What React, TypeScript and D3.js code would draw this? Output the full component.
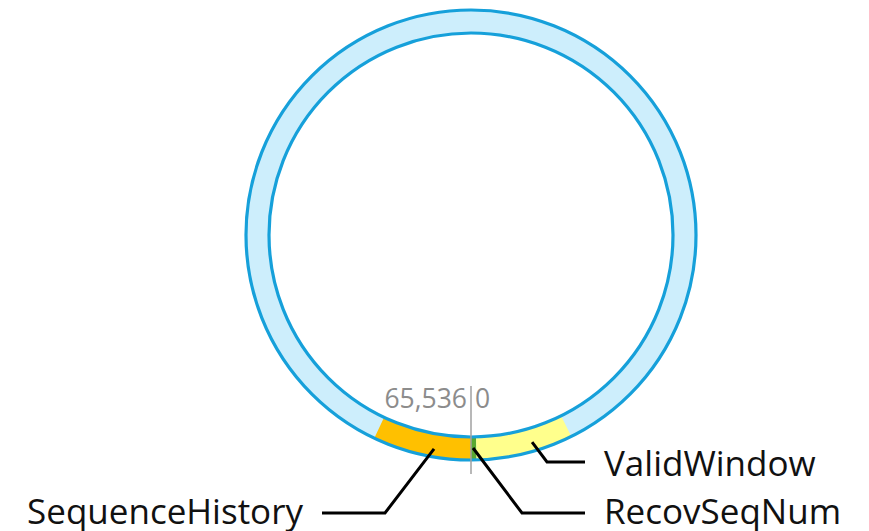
import React from "react";
import * as d3 from "d3";

// Sequence-number space (wraps at 65,536)
const seqSpace = 65536;

// Highlighted segments on the ring: [start, end] in sequence numbers
const segmentNames = ["SequenceHistory", "RecovSeqNum", "ValidWindow"];
const segmentStart = [60900, 0, 260];
const segmentEnd = [65536, 260, 4820];
const segmentColors = ["#ffc000", "#5aa832", "#ffff8c"];

// Where each label's leader line touches the ring (sequence numbers)
const labelAnchor = [63750, 100, 2990];

// Wrap-point tick labels
const wrapLabels = ["65,536", "0"];

const W = 869;
const H = 531;
const cx = 471;
const cy = 235;
const rOuter = 225;
const rInner = 202;

export default function App() {
  const angle = d3.scaleLinear().domain([0, seqSpace]).range([Math.PI, -Math.PI]);
  const arc = d3.arc<any>().innerRadius(rInner).outerRadius(rOuter);
  const pt = (v: number, r: number) => {
    const a = angle(v);
    return [cx + r * Math.sin(a), cy - r * Math.cos(a)];
  };

  const a0 = pt(labelAnchor[0], 217);
  const a1 = pt(labelAnchor[1], 213);
  const a2 = pt(labelAnchor[2], 216);

  const leaders = [
    // SequenceHistory
    [a0, [385, 513], [322, 513]],
    // RecovSeqNum
    [a1, [522, 513], [585, 513]],
    // ValidWindow
    [a2, [547, 462], [585, 462]],
  ];
  const line = d3.line();

  const font = "'Open Sans', sans-serif";

  return (
    <svg width={W} height={H} style={{ position: "absolute", left: 0, top: 0 }}>
      <rect width={W} height={H} fill="#ffffff" />
      <g transform={`translate(${cx},${cy})`}>
        <path
          d={arc({ startAngle: 0, endAngle: 2 * Math.PI }) || ""}
          fill="#cdeefc"
        />
        {segmentNames.map((n, i) => (
          <path
            key={n}
            d={
              arc({
                startAngle: angle(segmentStart[i]),
                endAngle: angle(segmentEnd[i]),
              }) || ""
            }
            fill={segmentColors[i]}
          />
        ))}
        <circle r={rOuter} fill="none" stroke="#16a0da" strokeWidth={3.2} />
        <circle r={rInner} fill="none" stroke="#16a0da" strokeWidth={3.2} />
      </g>
      <line x1={cx} x2={cx} y1={386} y2={474} stroke="#a0a0a0" strokeWidth={1.5} />
      <text
        x={cx - 4}
        y={408}
        textAnchor="end"
        fontFamily={font}
        fontSize={26.5}
        fill="#8c8c8c"
      >
        {wrapLabels[0]}
      </text>
      <text x={cx + 4} y={408} fontFamily={font} fontSize={26.5} fill="#8c8c8c">
        {wrapLabels[1]}
      </text>
      {leaders.map((p, i) => (
        <path
          key={i}
          d={line(p as [number, number][]) || ""}
          fill="none"
          stroke="#000"
          strokeWidth={3}
          strokeLinejoin="miter"
        />
      ))}
      <text x={303} y={524} textAnchor="end" fontFamily={font} fontSize={35} fill="#111">
        {segmentNames[0]}
      </text>
      <text x={604} y={524} fontFamily={font} fontSize={35} fill="#111">
        {segmentNames[1]}
      </text>
      <text x={604} y={476} fontFamily={font} fontSize={35} fill="#111">
        {segmentNames[2]}
      </text>
    </svg>
  );
}
